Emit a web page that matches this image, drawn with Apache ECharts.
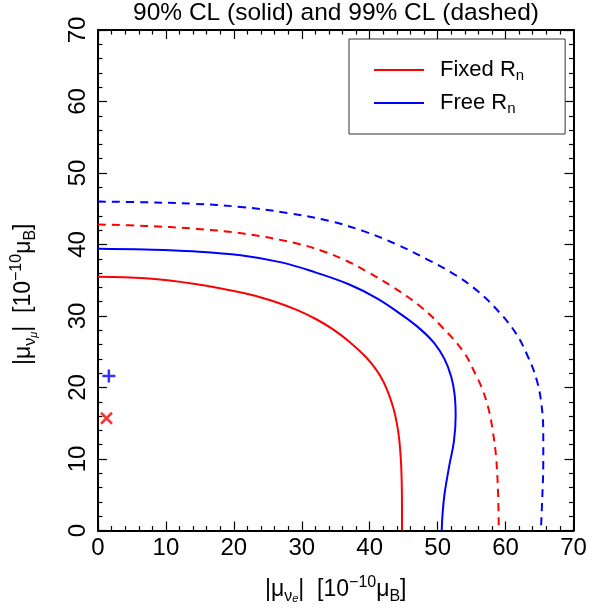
<!DOCTYPE html>
<html>
<head>
<meta charset="utf-8">
<script src="https://cdn.jsdelivr.net/npm/echarts@6/dist/echarts.min.js"></script>
<style>
  html, body { margin: 0; padding: 0; background: #fff; }
  #chart { width: 605px; height: 609px; }
</style>
</head>
<body>
<div id="chart"></div>
<script>
// Exclusion contours in the (|mu_nu_e|, |mu_nu_mu|) plane, units of 1e-10 mu_B
const fixedRn90 = [[0,35.5],[7,35.29],[14.3,34.49],[21.6,33.18],[25.5,32.17],[29.35,30.82],[32.2,29.51],[34.6,28.12],[37,26.39],[39.5,24.19],[41,22.42],[42,20.84],[42.8,19.08],[43.5,17.05],[44,14.95],[44.35,12.68],[44.6,9.68],[44.7,7.2],[44.75,3.5],[44.75,0]];
const freeRn90 = [[0,39.4],[7,39.3],[14,39.05],[21,38.5],[27,37.5],[32,36.1],[37,34.4],[41,32.5],[44.5,30.3],[47.4,28.2],[49.5,26.2],[51.0,24.0],[52.0,21.5],[52.5,19.0],[52.65,16.0],[52.4,12.5],[51.7,9.0],[51.0,5.0],[50.7,2.0],[50.6,0]];
const fixedRn99 = [[0,42.8],[7,42.6],[14.3,42.2],[21.6,41.5],[29,40.2],[33,39.1],[36.4,37.8],[39.6,36.2],[43.5,34.0],[47.5,31.3],[50.5,28.6],[53.8,25.0],[55.5,22.0],[56.6,19.7],[57.5,17.0],[58.1,14.0],[58.6,10.3],[58.9,5.0],[59.0,0]];
const freeRn99 = [[0,46.0],[7,45.9],[14,45.7],[21,45.25],[28,44.4],[34,43.3],[39,41.9],[44,40.0],[48.5,37.9],[52.5,35.8],[56,33.4],[59,30.6],[61.5,27.6],[63.3,24.3],[64.6,21.0],[65.3,17.5],[65.55,13.5],[65.55,9.5],[65.4,4.5],[65.2,0]];
// Best-fit points
const fixedRnBest = [[1.25,15.7]];
const freeRnBest = [[1.6,21.6]];

const axisMin = 0, axisMax = 70, axisStep = 10;
const legendNames = ['Fixed', 'Free'];
const legendSub = { Fixed: 'Fixed R', Free: 'Free R' };

const FONT = '"Liberation Sans", Arial, Helvetica, sans-serif';
const RED = '#ff0000', BLUE = '#0000ff';

const nameRich = {
  t: { fontSize: 23, fontFamily: FONT, color: '#000', lineHeight: 30 },
  s: { fontSize: 16, fontFamily: FONT, color: '#000', lineHeight: 15, verticalAlign: 'bottom' },
  ss: { fontSize: 11, fontFamily: FONT, fontStyle: 'italic', color: '#000', lineHeight: 8, verticalAlign: 'bottom' },
  sup: { fontSize: 16, fontFamily: FONT, color: '#000', lineHeight: 15, verticalAlign: 'top' }
};

// One side of the frame: axis line with inward major/minor ticks
function frameAxis(pos, extra) {
  return Object.assign({
    type: 'value', min: axisMin, max: axisMax, interval: axisStep, position: pos,
    axisLine: { show: true, onZero: false, lineStyle: { color: '#000', width: 2 } },
    axisTick: { show: true, inside: true, length: 9, lineStyle: { color: '#000', width: 1.2 } },
    minorTick: { show: true, splitNumber: 5, length: 4.5, lineStyle: { color: '#000', width: 1.2 } },
    splitLine: { show: false },
    axisLabel: { show: false }
  }, extra || {});
}

const chart = echarts.init(document.getElementById('chart'), null, { renderer: 'canvas' });

chart.setOption({
  animation: false,
  backgroundColor: '#fff',
  title: {
    text: '90% CL (solid) and 99% CL (dashed)',
    left: 336, top: 0, textAlign: 'center', padding: 0,
    textStyle: { fontSize: 24.5, fontWeight: 'normal', fontFamily: FONT, color: '#000', lineHeight: 26 }
  },
  grid: { left: 98, right: 31.5, top: 30, bottom: 78.5, outerBoundsMode: 'none', containLabel: false },
  xAxis: [
    frameAxis('bottom', {
      axisLabel: { show: true, fontSize: 24, fontFamily: FONT, color: '#000', margin: 6 },
      name: '{t||μ}{s|ν}{ss|e}{t||  [10}{sup|−10}{t|μ}{s|B}{t|]}',
      nameLocation: 'middle', nameGap: 44,
      nameTextStyle: { rich: nameRich }
    }),
    frameAxis('top')
  ],
  yAxis: [
    frameAxis('left', {
      axisLabel: { show: true, fontSize: 24, fontFamily: FONT, color: '#000', rotate: 90, margin: 8 },
      name: '{t||μ}{s|ν}{ss|μ}{t||  [10}{sup|−10}{t|μ}{s|B}{t|]}',
      nameLocation: 'middle', nameGap: 59, nameRotate: 90,
      nameTextStyle: { rich: nameRich, padding: [0, 28, 0, 0] }
    }),
    frameAxis('right')
  ],
  legend: {
    data: legendNames,
    orient: 'vertical',
    left: 349, top: 39,
    itemWidth: 50, itemHeight: 2, itemGap: 9,
    icon: 'rect',
    padding: [20, 41, 18, 25],
    backgroundColor: '#fff',
    borderColor: '#333', borderWidth: 1,
    itemStyle: { borderWidth: 0 },
    textStyle: {
      padding: [0, 0, 0, 11],
      rich: {
        a: { fontSize: 22, fontFamily: FONT, color: '#000', lineHeight: 26 },
        b: { fontSize: 15, fontFamily: FONT, color: '#000', lineHeight: 15, verticalAlign: 'bottom' }
      }
    },
    formatter: name => '{a|' + legendSub[name] + '}{b|n}'
  },
  series: [
    { name: 'Fixed', type: 'line', data: fixedRn90, smooth: 0.4, showSymbol: false,
      lineStyle: { color: RED, width: 2 }, itemStyle: { color: RED } },
    { name: 'Free', type: 'line', data: freeRn90, smooth: 0.4, showSymbol: false,
      lineStyle: { color: BLUE, width: 2 }, itemStyle: { color: BLUE } },
    { name: 'Fixed', type: 'line', data: fixedRn99, smooth: 0.4, showSymbol: false,
      lineStyle: { color: RED, width: 2, type: [8, 6] }, itemStyle: { color: RED } },
    { name: 'Free', type: 'line', data: freeRn99, smooth: 0.4, showSymbol: false,
      lineStyle: { color: BLUE, width: 2, type: [8, 6] }, itemStyle: { color: BLUE } },
    { name: 'FixedBest', type: 'scatter', data: fixedRnBest,
      symbol: 'path://M0,0L10,10M10,0L0,10', symbolSize: [11, 11],
      itemStyle: { color: RED, borderColor: RED, borderWidth: 2.5 } },
    { name: 'FreeBest', type: 'scatter', data: freeRnBest,
      symbol: 'path://M5,0L5,10M0,5L10,5', symbolSize: [13, 13],
      itemStyle: { color: BLUE, borderColor: BLUE, borderWidth: 2.5 } }
  ]
});
</script>
</body>
</html>
